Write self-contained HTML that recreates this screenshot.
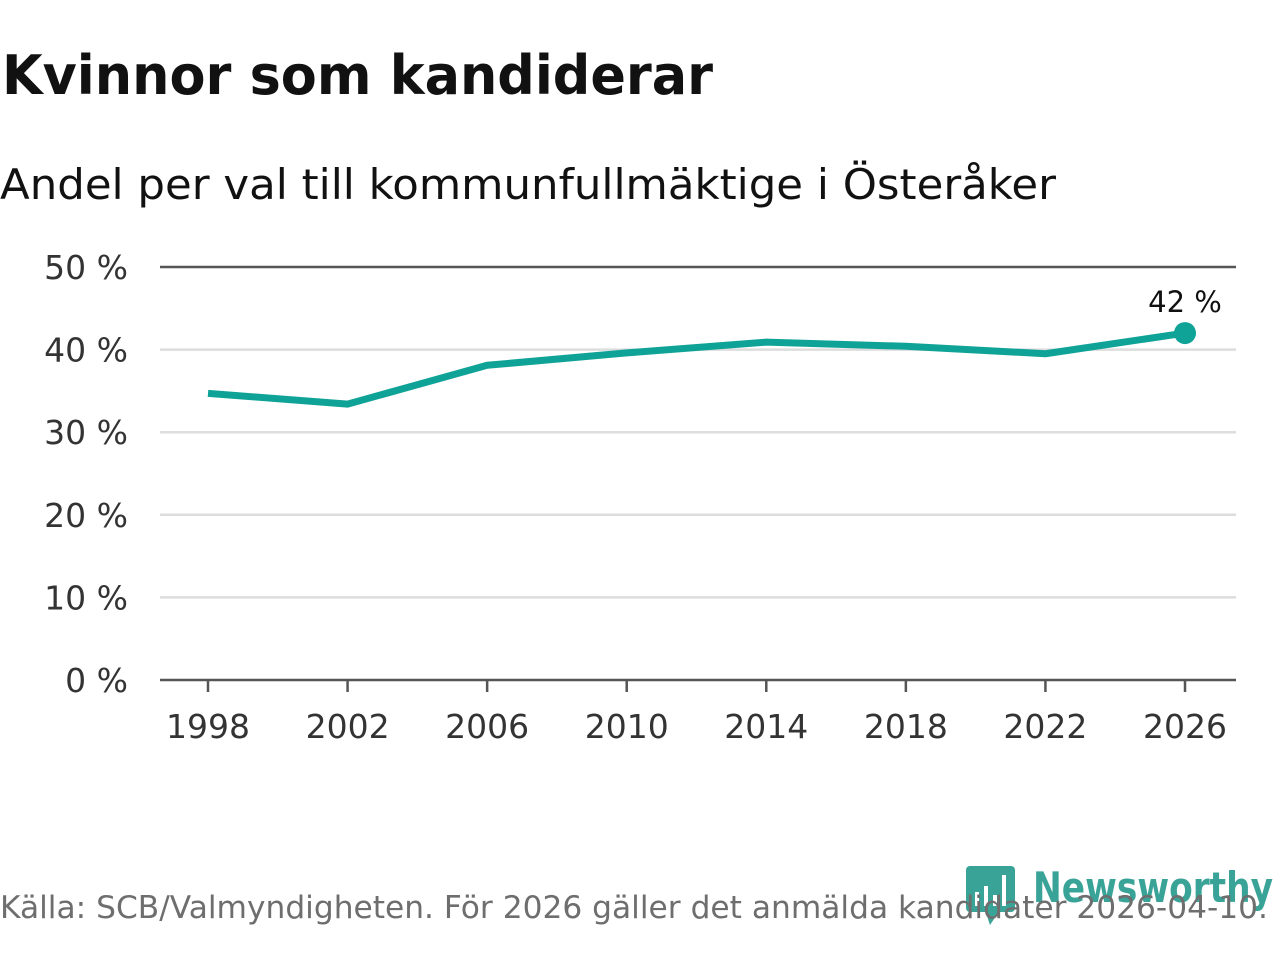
<!DOCTYPE html>
<html><head><meta charset="utf-8"><style>
body{margin:0;background:#fff;width:1280px;height:960px;overflow:hidden;font-family:"DejaVu Sans","Liberation Sans",sans-serif}
</style></head><body>
<svg width="1280" height="960" xmlns="http://www.w3.org/2000/svg">
<text x="2" y="94" font-size="54" font-weight="bold" fill="#111" textLength="711" lengthAdjust="spacingAndGlyphs">Kvinnor som kandiderar</text>
<text x="0" y="199" font-size="42" fill="#111" textLength="1056" lengthAdjust="spacingAndGlyphs">Andel per val till kommunfullmäktige i Österåker</text>
<g id="grid"></g><g id="plot"></g>
<g>
<rect x="966" y="866" width="49" height="46" rx="4" fill="#3aa398"/>
<path d="M985 910 L990 925 L1000 910Z" fill="#3aa398"/>
<rect x="975" y="892" width="4" height="14" fill="#fff"/><rect x="984" y="886" width="4" height="20" fill="#fff"/><rect x="993" y="895" width="4" height="11" fill="#fff"/><rect x="1002" y="875" width="4" height="31" fill="#fff"/>
<text x="1033" y="902" font-size="42" font-weight="bold" fill="#3aa398" textLength="240" lengthAdjust="spacingAndGlyphs">Newsworthy</text>
</g>
<text x="0" y="918" font-size="31" fill="#6e6e6e" textLength="1268" lengthAdjust="spacingAndGlyphs">Källa: SCB/Valmyndigheten. För 2026 gäller det anmälda kandidater 2026-04-10.</text>
</svg>
<script>
const years=[1998,2002,2006,2010,2014,2018,2022,2026];
const values=[34.7,33.4,38.1,39.6,40.9,40.4,39.5,42.0];
const yTicks=[0,10,20,30,40,50];
const NS="http://www.w3.org/2000/svg";
const xS=y=>208+(y-1998)*(1185-208)/28;
const yS=v=>680-v*(680-267)/50;
function mk(t,a,p){const e=document.createElementNS(NS,t);for(const k in a)e.setAttribute(k,a[k]);p.appendChild(e);return e;}
const g=document.getElementById('grid'),p=document.getElementById('plot');
yTicks.forEach(v=>{
 const l=mk('line',{x1:160,x2:1236,y1:yS(v),y2:yS(v),stroke:v==0||v==50?'#555':'#ddd','stroke-width':2.5},g);
 
 
 const t=mk('text',{x:128,y:yS(v)+12,'font-size':33,fill:'#333','text-anchor':'end'},g);t.textContent=v+' %';
 
 
});
years.forEach(y=>{
 const l=mk('line',{x1:xS(y),x2:xS(y),y1:680,y2:692,stroke:'#555','stroke-width':2.5},g);
 
 
 const t=mk('text',{x:xS(y),y:738,'font-size':33,fill:'#333','text-anchor':'middle'},g);t.textContent=y;
 
 
});
const line=mk('polyline',{points:years.map((y,i)=>xS(y)+','+yS(values[i])).join(' '),fill:'none',stroke:'#0fa398','stroke-width':7,'stroke-linejoin':'round'},p);


const n=years.length-1;
const c=mk('circle',{cx:xS(years[n]),cy:yS(values[n]),r:11,fill:'#0fa398'},p);


const lb=mk('text',{x:xS(years[n]),y:yS(values[n])-21,'font-size':29,fill:'#111','text-anchor':'middle'},p);lb.textContent=Math.round(values[n])+' %';


</script>
</body></html>
